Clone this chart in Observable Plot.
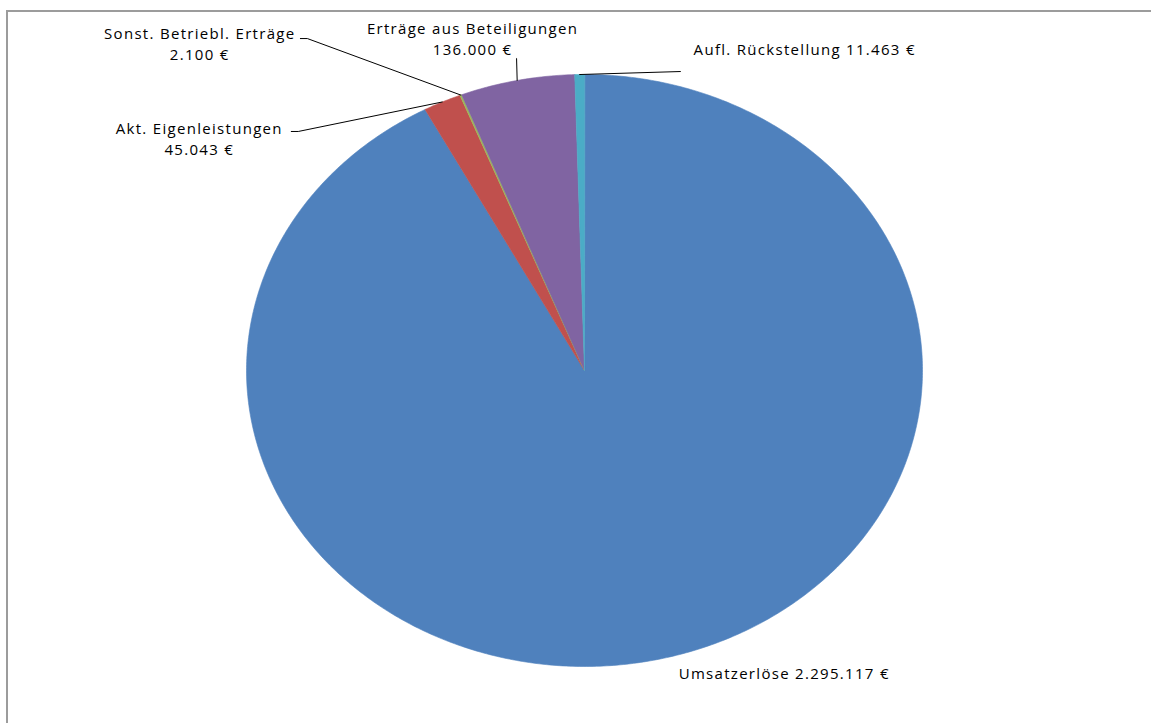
<!DOCTYPE html>
<html><head><meta charset="utf-8">
<script src="https://cdn.jsdelivr.net/npm/d3@7"></script>
<script src="https://cdn.jsdelivr.net/npm/@observablehq/plot@0.6"></script>
<style>
html,body{margin:0;padding:0;background:#fff;overflow:hidden}
#chart{position:absolute;left:0;top:0}
#chart svg text{letter-spacing:1.3px}
#frame{position:absolute;left:6px;top:10px;width:1200px;height:800px;border-left:2px solid #9c9c9c;border-top:2px solid #9c9c9c;pointer-events:none}
</style></head>
<body><div id="chart"></div><div id="frame"></div>
<script>
// ---- data ----
const names = ["Umsatzerlöse", "Akt. Eigenleistungen", "Sonst. Betriebl. Erträge", "Erträge aus Beteiligungen", "Aufl. Rückstellung"];
const values = [2295117, 45043, 2100, 136000, 11463];
const colors = ["#4F81BD", "#C0504D", "#9BBB59", "#8064A2", "#4BACC6"];

// ---- layout (pixels) ----
const cx = 584, cy = 370, rx = 338, ry = 296;
// label placement relative to slice edge midpoint: leader knee, leader end, text anchor, text-anchor mode, two-line?
const labelLayout = [
  {knee: null, end: null, text: [12, 17], anchor: "start", twoLine: false},
  {knee: [-144, 29.5], end: [-151, 29.5], text: [-243, 36], anchor: "middle", twoLine: true},
  {knee: [-153.4, -56.5], end: [-160.4, -56.5], text: [-261, -52], anchor: "middle", twoLine: true},
  {knee: [-0.6, -22], end: [-0.6, -22], text: [-44.6, -43], anchor: "middle", twoLine: true},
  {knee: [101, -3], end: [101, -3], text: [114, -24], anchor: "start", twoLine: false}
];

const de = d3.formatLocale({decimal: ",", thousands: ".", grouping: [3], currency: ["", " €"]});
const fmt = de.format("$,.0f");

const arcs = d3.pie().sort(null).value(d => d)(values);
const toU = ([dx, dy]) => [dx / rx, -dy / ry];

const slicePts = [];
arcs.forEach((a, i) => {
  const n = Math.max(4, Math.ceil((a.endAngle - a.startAngle) / 0.01));
  slicePts.push({name: names[i], x: 0, y: 0});
  for (let k = 0; k <= n; k++) {
    const t = a.startAngle + (a.endAngle - a.startAngle) * k / n;
    slicePts.push({name: names[i], x: Math.sin(t), y: Math.cos(t)});
  }
});

const leaders = [];
const labels = [];
arcs.forEach((a, i) => {
  const m = (a.startAngle + a.endAngle) / 2;
  const ex = Math.sin(m), ey = Math.cos(m);
  const L = labelLayout[i];
  if (L.knee) {
    const k = toU(L.knee), e = toU(L.end);
    leaders.push({id: i, x: ex, y: ey});
    leaders.push({id: i, x: ex + k[0], y: ey + k[1]});
    leaders.push({id: i, x: ex + e[0], y: ey + e[1]});
  }
  const t = toU(L.text);
  labels.push({
    x: ex + t[0], y: ey + t[1], anchor: L.anchor,
    text: L.twoLine ? names[i] + "\n" + fmt(values[i]) : names[i] + " " + fmt(values[i])
  });
});

const chart = Plot.plot({
  width: 1151, height: 723, margin: 0,
  x: {axis: null, domain: [-1, 1], range: [cx - rx, cx + rx]},
  y: {axis: null, domain: [-1, 1], range: [cy + ry, cy - ry]},
  color: {domain: names, range: colors},
  style: {fontFamily: "'Open Sans', Lato, sans-serif", fontSize: "15px", background: "transparent"},
  marks: [
    Plot.line(slicePts, {x: "x", y: "y", z: "name", fill: "name", stroke: "name", strokeWidth: 0.6, curve: "linear-closed"}),
    Plot.line(leaders, {x: "x", y: "y", z: "id", stroke: "black", strokeWidth: 1}),
    Plot.text(labels.filter(d => d.anchor === "middle"), {x: "x", y: "y", text: "text", textAnchor: "middle", lineAnchor: "middle", lineHeight: 1.4, fill: "black", fontSize: 15}),
    Plot.text(labels.filter(d => d.anchor === "start"), {x: "x", y: "y", text: "text", textAnchor: "start", lineAnchor: "middle", fill: "black", fontSize: 15})
  ]
});
document.getElementById("chart").appendChild(chart);
</script>
</body></html>
